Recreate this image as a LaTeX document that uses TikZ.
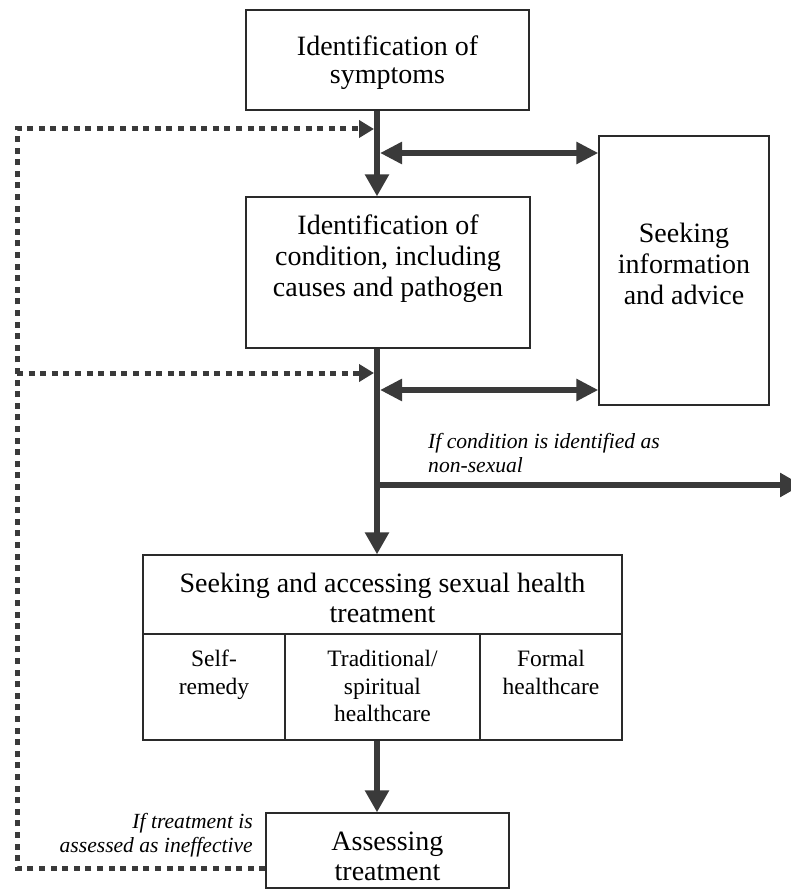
\documentclass[tikz,border=0pt]{standalone}
\usepackage{fontspec}
\setmainfont{Liberation Serif}
\usetikzlibrary{arrows.meta}
\definecolor{ink}{HTML}{3A3A3A}
\definecolor{edge}{HTML}{2A2A2A}
\begin{document}
\begin{tikzpicture}[x=1pt,y=-1pt,
  frame/.style={draw=edge, line width=1.3pt, inner sep=0pt},
  big/.style={inner sep=0pt, align=center, font=\fontsize{28}{#1}\selectfont},
  big/.default=31,
  celltext/.style={align=center, inner sep=0pt, anchor=north,
    font=\fontsize{23.5}{27.5}\selectfont},
  note/.style={inner sep=0pt, font=\fontsize{21.6}{24}\selectfont\itshape},
  flow/.style={draw=ink, line width=6.5pt, -{Triangle[length=22pt,width=23pt]}},
  twoway/.style={draw=ink, line width=6pt,
    {Triangle[length=22pt,width=21pt]}-{Triangle[length=22pt,width=21pt]}},
  loopback/.style={draw=ink, line width=5pt, dash pattern=on 6pt off 5.6pt,
    -{Triangle[length=15pt,width=17pt]}},
]
\useasboundingbox (0,0) rectangle (790,893);
\fill[white] (0,0) rectangle (790,893);

% vertical spine of the main flow
\coordinate (spine) at (377,0);

% boxes
\node[frame, minimum width=283pt, minimum height=100pt] (sym) at (387.5,60) {};
\node[big=28] (symtext) at (387.5,63) {Identification of\\symptoms};

\node[frame, minimum width=284pt, minimum height=151pt] (cond) at (388,272.5) {};
\node[big] (condtext) at (388,258.5)
  {Identification of\\condition, including\\causes and pathogen};

\node[frame, minimum width=170pt, minimum height=269pt] (info) at (684,270.5) {};
\node[big] (infotext) at (684,264) {Seeking\\information\\and advice};

\node[frame, minimum width=479pt, minimum height=79pt] (seek) at (382.5,594.5) {};
\node[big=30] (seektext) at (382.5,598)
  {Seeking and accessing sexual health\\treatment};

\node[frame, minimum width=142pt, minimum height=106pt] (self) at (214,687) {};
\node[frame, minimum width=195pt, minimum height=106pt] (trad) at (382.5,687) {};
\node[frame, minimum width=142pt, minimum height=106pt] (formal) at (551,687) {};
\node[celltext] (selftext) at (self.north |- 0,650) {Self-\\remedy};
\node[celltext] (tradtext) at (trad.north |- 0,650) {Traditional/\\spiritual\\healthcare};
\node[celltext] (formaltext) at (formal.north |- 0,650) {Formal\\healthcare};

\node[frame, minimum width=243pt, minimum height=75pt] (assess) at (387.5,850.5) {};
\node[big=30] (assesstext) at (387.5,856) {Assessing\\treatment};

% main flow
\draw[flow] (sym.south -| spine) -- (cond.north -| spine);
\draw[flow] (cond.south -| spine) -- (seek.north -| spine);
\draw[flow] (trad.south -| spine) -- (assess.north -| spine);

% exchange with information seeking
\coordinate (d1) at (380,153);
\coordinate (d2) at (380,390);
\draw[twoway] (d1) -- (info.west |- d1);
\draw[twoway] (d2) -- (info.west |- d2);

% exit for non-sexual conditions
\coordinate (ns) at (377,485);
\coordinate (nsend) at (802,485);
\draw[flow] (ns) -- (nsend);
\node[note, anchor=west, align=left] (nonsex) at (428,453)
  {If condition is identified as\\non-sexual};

% feedback loop when treatment fails
\coordinate (lb) at (17,868);
\coordinate (lt) at (17,129);
\coordinate (lm) at (17,373);
\coordinate (j1) at (374,129);
\coordinate (j2) at (374,373);
\draw[loopback] (assess.west |- lb) -- (lb) -- (lt) -- (j1);
\draw[loopback] (lm) -- (j2);
\node[note, anchor=east, align=right] (ineff) at (253,835)
  {If treatment is\\assessed as ineffective};
\end{tikzpicture}
\end{document}
